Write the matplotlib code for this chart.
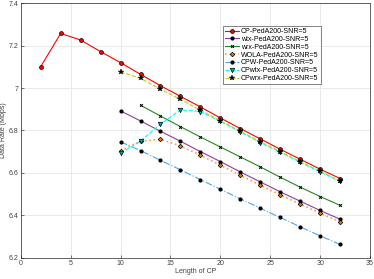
import matplotlib
matplotlib.use("Agg")
import matplotlib.pyplot as plt

x_cp = [2, 4, 6, 8, 10, 12, 14, 16, 18, 20, 22, 24, 26, 28, 30, 32]
cp = [7.101, 7.258, 7.227, 7.172, 7.120, 7.065, 7.011, 6.961, 6.911, 6.859, 6.809, 6.760, 6.711, 6.664, 6.617, 6.573]

x10 = [10, 12, 14, 16, 18, 20, 22, 24, 26, 28, 30, 32]
x12 = [12, 14, 16, 18, 20, 22, 24, 26, 28, 30, 32]
wtx = [6.892, 6.845, 6.796, 6.749, 6.700, 6.653, 6.604, 6.557, 6.510, 6.466, 6.422, 6.381]
wrx = [6.919, 6.868, 6.818, 6.769, 6.722, 6.675, 6.628, 6.579, 6.532, 6.488, 6.446]
wola = [6.703, 6.749, 6.758, 6.727, 6.683, 6.636, 6.588, 6.541, 6.496, 6.452, 6.409, 6.369]
cpw = [6.746, 6.705, 6.659, 6.614, 6.568, 6.522, 6.477, 6.433, 6.389, 6.345, 6.302, 6.262]
cpwtx = [6.692, 6.750, 6.830, 6.897, 6.889, 6.843, 6.793, 6.743, 6.697, 6.650, 6.604, 6.559]
cpwrx = [7.076, 7.046, 6.995, 6.947, 6.895, 6.846, 6.796, 6.747, 6.700, 6.653, 6.607, 6.561]

labels = ["CP-PedA200-SNR=5", "wtx-PedA200-SNR=5", "wrx-PedA200-SNR=5",
          "WOLA-PedA200-SNR=5", "CPW-PedA200-SNR=5", "CPwtx-PedA200-SNR=5",
          "CPwrx-PedA200-SNR=5"]

plt.rcParams['font.family'] = ['Liberation Sans', 'DejaVu Sans']
fig = plt.figure(figsize=(3.74, 2.79), dpi=100)
ax = fig.add_axes([0.0555, 0.077, 0.934, 0.911])

lw = 0.8
ax.plot(x_cp, cp, '-', color='#ff0000', lw=lw, marker='o', ms=2.8,
        mfc='#ff0000', mec='black', mew=0.5, label=labels[0])
ax.plot(x10, wtx, '-', color='#8e3ea0', lw=lw, marker='o', ms=2.0,
        mfc='black', mec='black', label=labels[1])
ax.plot(x12, wrx, '-', color='#1e8c1e', lw=lw, marker='x', ms=2.0,
        mfc='black', mec='black', mew=0.7, label=labels[2])
ax.plot(x10, wola, ':', color='#f5a050', lw=1.2, marker='D', ms=2.3,
        mfc='#e07c10', mec='black', mew=0.5, label=labels[3])
ax.plot(x10, cpw, '-.', color='#4da6e6', lw=lw, marker='o', ms=2.0,
        mfc='black', mec='black', label=labels[4])
ax.plot(x10, cpwtx, '--', color='#00ffff', lw=lw, marker='v', ms=3.2,
        mfc='#00b0b0', mec='black', mew=0.5, label=labels[5])
ax.plot(x10, cpwrx, '--', color='#c8c820', lw=lw, marker='*', ms=4,
        mfc='black', mec='black', mew=0.3, label=labels[6])

ax.set_xlim(0, 35)
ax.set_ylim(6.2, 7.4)
ax.set_xticks([0, 5, 10, 15, 20, 25, 30, 35])
ax.set_yticks([6.2, 6.4, 6.6, 6.8, 7.0, 7.2, 7.4])
ax.set_yticklabels(['6.2', '6.4', '6.6', '6.8', '7', '7.2', '7.4'])
ax.grid(True, color='#e6e6e6', lw=0.6)
ax.set_axisbelow(True)
ax.tick_params(direction='in', labelsize=5, length=2, width=0.5,
               colors='#404040', top=False, right=False, pad=1.5)
for s in ax.spines.values():
    s.set_color('#262626')
    s.set_linewidth(0.5)
ax.set_xlabel('Length of CP', fontsize=5, color='#404040', labelpad=1)
ax.set_ylabel('Data Rate (Mbps)', fontsize=5, color='#404040', labelpad=1)

leg = ax.legend(loc='upper left', bbox_to_anchor=(0.579, 0.911), fontsize=5,
                frameon=True, fancybox=False, edgecolor='#262626',
                handlelength=2.0, handletextpad=0.3, labelspacing=0.12,
                borderpad=0.3, borderaxespad=0)
leg.get_frame().set_linewidth(0.5)

fig.savefig('out.png', dpi=100)
